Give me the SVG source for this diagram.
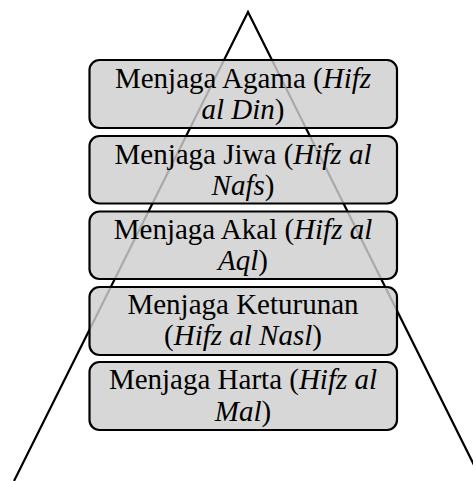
<svg xmlns="http://www.w3.org/2000/svg" width="473" height="481" viewBox="0 0 473 481">
<style>
.bg{fill:#ffffff}
.tri{fill:none;stroke:#000;stroke-width:2.2;stroke-linejoin:miter}
.box{fill:#cecece;fill-opacity:0.82;stroke:#000;stroke-width:2.2}
.t{font-family:"Liberation Serif","Times New Roman",serif;font-size:29px;fill:#000;text-anchor:middle}
.i{font-style:italic}
</style>
<rect class="bg" x="0" y="0" width="473" height="481"/>
<g id="connectors">
<path class="tri" d="M14,481 L248,12 L482,481"/>
</g>
<g id="node-agama">
<rect class="box" x="89.5" y="60" width="307.5" height="68" rx="10"/>
<text class="t" x="243" y="87.5">Menjaga Agama (<tspan class="i">Hifz</tspan></text>
<text class="t" x="243" y="119"><tspan class="i">al Din</tspan>)</text>
</g>
<g id="node-jiwa">
<rect class="box" x="89.5" y="136" width="307.5" height="67.5" rx="10"/>
<text class="t" x="243" y="163.5">Menjaga Jiwa (<tspan class="i">Hifz al</tspan></text>
<text class="t" x="243" y="195"><tspan class="i">Nafs</tspan>)</text>
</g>
<g id="node-akal">
<rect class="box" x="89.5" y="211.5" width="307.5" height="67.5" rx="10"/>
<text class="t" x="243" y="238.5">Menjaga Akal (<tspan class="i">Hifz al</tspan></text>
<text class="t" x="243" y="270"><tspan class="i">Aql</tspan>)</text>
</g>
<g id="node-keturunan">
<rect class="box" x="89.5" y="287" width="307.5" height="68" rx="10"/>
<text class="t" x="243" y="313.5">Menjaga Keturunan</text>
<text class="t" x="243" y="345">(<tspan class="i">Hifz al Nasl</tspan>)</text>
</g>
<g id="node-harta">
<rect class="box" x="89.5" y="362" width="307.5" height="68" rx="10"/>
<text class="t" x="243" y="389">Menjaga Harta (<tspan class="i">Hifz al</tspan></text>
<text class="t" x="243" y="420.5"><tspan class="i">Mal</tspan>)</text>
</g>
</svg>
